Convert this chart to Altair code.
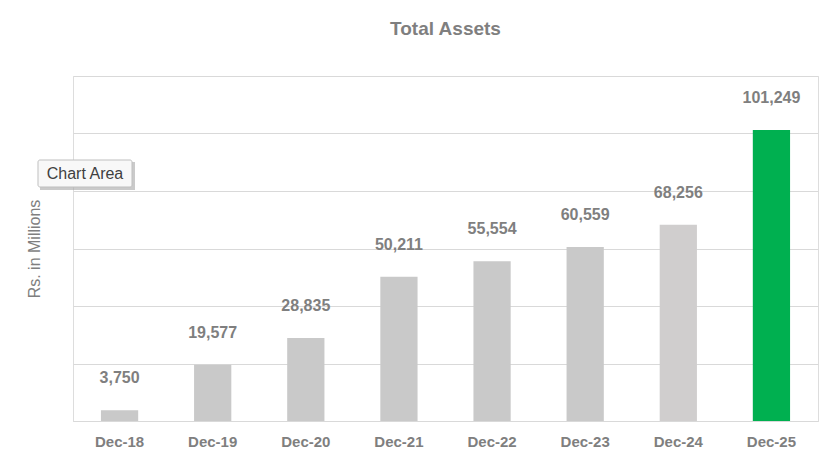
import altair as alt
import pandas as pd

periods = ["Dec-18", "Dec-19", "Dec-20", "Dec-21", "Dec-22", "Dec-23", "Dec-24", "Dec-25"]
assets = [3750, 19577, 28835, 50211, 55554, 60559, 68256, 101249]
bar_colors = ["#C9C9C9", "#C9C9C9", "#C9C9C9", "#C9C9C9", "#C9C9C9", "#C9C9C9", "#D0CECE", "#00B050"]

df = pd.DataFrame({"period": periods, "assets": assets, "color": bar_colors})

GRAY = "#7F7F7F"
FONT = "Liberation Sans"

x = alt.X("period:N", sort=periods, title=None,
          scale=alt.Scale(paddingInner=0.6, paddingOuter=0.3),
          axis=alt.Axis(labelAngle=0, labelFont=FONT, labelFontSize=15, labelFontWeight="bold",
                        labelColor=GRAY, labelPadding=13, ticks=False, domainColor="#D9D9D9"))
y = alt.Y("assets:Q", title="Rs. in Millions",
          scale=alt.Scale(domain=[0, 120000], nice=False),
          axis=alt.Axis(values=[0, 20000, 40000, 60000, 80000, 100000, 120000], labels=False,
                        ticks=False, domain=False, gridColor="#D9D9D9", titleFont=FONT,
                        titleFontSize=16, titleFontWeight="normal", titleColor=GRAY, titlePadding=31))

bars = alt.Chart(df).mark_bar().encode(x=x, y=y, color=alt.Color("color:N", scale=None))
labels = alt.Chart(df).mark_text(baseline="bottom", dy=-24, font=FONT, fontSize=16,
                                 fontWeight="bold", color=GRAY).encode(
    x=alt.X("period:N", sort=periods), y="assets:Q", text=alt.Text("assets:Q", format=","))

tip_df = pd.DataFrame({"t": ["Chart Area"]})
shadow = alt.Chart(tip_df).mark_rect(fill="#A6A6A6", opacity=0.6).encode(
    x=alt.value(-33), x2=alt.value(62), y=alt.value(86), y2=alt.value(114))
box = alt.Chart(tip_df).mark_rect(fill="#F8F8F8", stroke="#BFBFBF", strokeWidth=1, cornerRadius=2).encode(
    x=alt.value(-35), x2=alt.value(59), y=alt.value(84), y2=alt.value(111))
tip = alt.Chart(tip_df).mark_text(font=FONT, fontSize=16, color="#404040", align="center", baseline="middle").encode(
    x=alt.value(12), y=alt.value(98), text="t:N")

chart = alt.layer(bars, labels, shadow, box, tip).properties(
    width=745, height=345,
    title=alt.TitleParams("Total Assets", font=FONT, fontSize=19, fontWeight="bold", color=GRAY,
                          anchor="middle", offset=37),
    autosize=alt.AutoSizeParams(type="none"),
    padding={"left": 65, "top": 68, "right": 11, "bottom": 45},
).configure_view(stroke="#D9D9D9").configure(background="white")

chart.save("out.html", embed_options={"renderer": "svg", "actions": False})
